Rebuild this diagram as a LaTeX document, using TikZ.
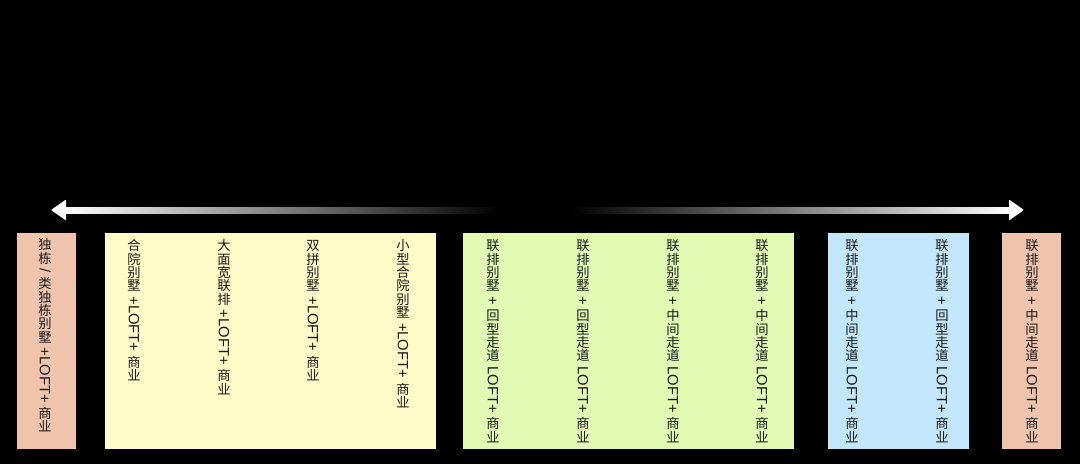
\documentclass[tikz,border=0pt]{standalone}
\usepackage{fontspec}
\usepackage{graphicx}
\setmainfont{Liberation Sans}
\newfontfamily\cjkf{Noto Sans CJK SC}
\newcommand\vcj[1]{\rotatebox[origin=c]{90}{\fontsize{13.3}{13.3}\selectfont\makebox[1em]{\rule[-0.12em]{0pt}{1em}\cjkf #1}}}
\def\vcjs#1{\vcjsloop#1\relax}
\def\vcjsloop#1{\ifx#1\relax\else\vcj{#1}\expandafter\vcjsloop\fi}
\definecolor{salmonc}{RGB}{240,196,172}
\definecolor{yellowc}{RGB}{255,251,200}
\definecolor{greenc}{RGB}{226,250,180}
\definecolor{bluec}{RGB}{195,230,250}
\definecolor{txt}{RGB}{25,25,25}
\begin{document}
\begin{tikzpicture}[x=1pt,y=-1pt,
  panel/.style={draw=none, inner sep=0pt, anchor=north west, minimum height=216pt},
  vtext/.style={rotate=-90, anchor=west, inner sep=0pt, text=txt, font=\fontsize{14.8}{14.8}\selectfont}]
\fill[black] (0,0) rectangle (1080,464);
\useasboundingbox (0,0) rectangle (1080,464);
% arrow
\coordinate (al) at (51,210);
\coordinate (ar) at (1024,210);
\shade[left color=white, right color=black] ([xshift=10pt,yshift=3pt]al) rectangle (500,213);
\shade[left color=black, right color=white] (570,207) rectangle ([xshift=-10pt,yshift=-3pt]ar);
\fill[white, rounded corners=0.8pt] (al) -- ++(15,-10.5) -- ++(0,21) -- cycle;
\fill[white, rounded corners=0.8pt] (ar) -- ++(-15,-10.5) -- ++(0,21) -- cycle;
% panels
\node[panel, fill=salmonc, minimum width=59pt] (p1) at (17,233) {};
\node[panel, fill=yellowc, minimum width=331pt] (p2) at (105,233) {};
\node[panel, fill=greenc, minimum width=331pt] (p3) at (463,233) {};
\node[panel, fill=bluec, minimum width=141pt] (p4) at (828,233) {};
\node[panel, fill=salmonc, minimum width=59pt] (p5) at (1002,233) {};
% texts
\node[vtext] (t1) at (45,238) {\vcjs{独栋} / \vcjs{类独栋别墅} +LOFT+ \vcjs{商业}};
\node[vtext] (t2) at (134,239) {\vcjs{合院别墅} +LOFT+ \vcjs{商业}};
\node[vtext] (t3) at (224,239) {\vcjs{大面宽联排} +LOFT+ \vcjs{商业}};
\node[vtext] (t4) at (313,239) {\vcjs{双拼别墅} +LOFT+ \vcjs{商业}};
\node[vtext] (t5) at (403,239) {\vcjs{小型合院别墅} +LOFT+ \vcjs{商业}};
\node[vtext] (t6) at (493,239) {\vcjs{联排别墅} + \vcjs{回型走道} LOFT+ \vcjs{商业}};
\node[vtext] (t7) at (583,239) {\vcjs{联排别墅} + \vcjs{回型走道} LOFT+ \vcjs{商业}};
\node[vtext] (t8) at (673,239) {\vcjs{联排别墅} + \vcjs{中间走道} LOFT+ \vcjs{商业}};
\node[vtext] (t9) at (762,239) {\vcjs{联排别墅} + \vcjs{中间走道} LOFT+ \vcjs{商业}};
\node[vtext] (t10) at (852,239) {\vcjs{联排别墅} + \vcjs{中间走道} LOFT+ \vcjs{商业}};
\node[vtext] (t11) at (942,239) {\vcjs{联排别墅} + \vcjs{回型走道} LOFT+ \vcjs{商业}};
\node[vtext] (t12) at (1032,239) {\vcjs{联排别墅} + \vcjs{中间走道} LOFT+ \vcjs{商业}};
\end{tikzpicture}
\end{document}
